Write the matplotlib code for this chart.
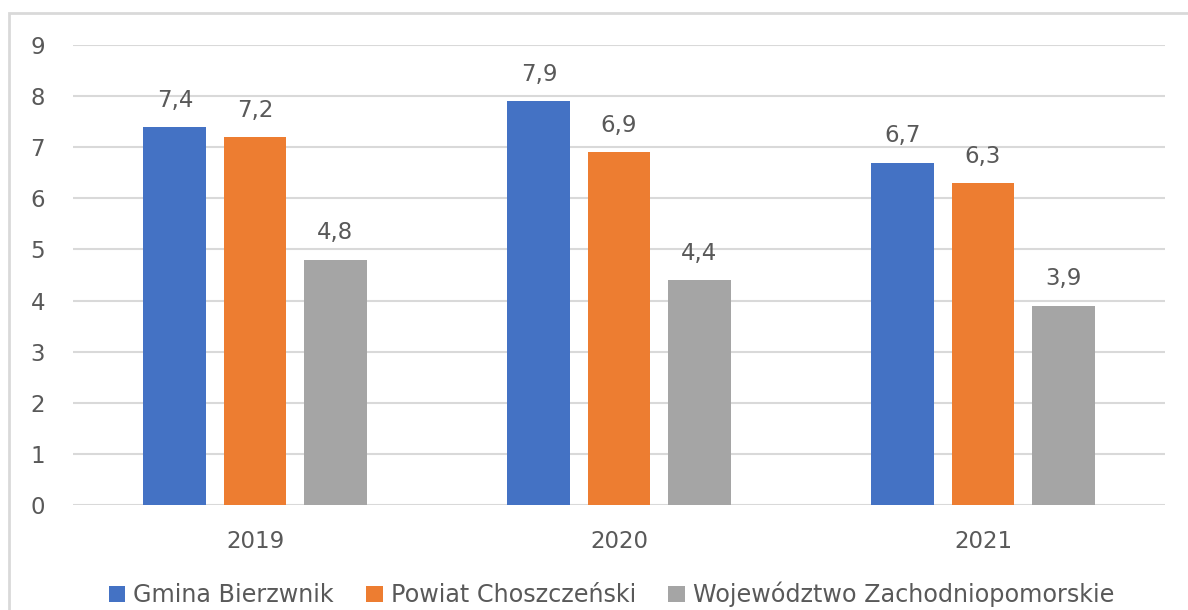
import numpy as np
import matplotlib.pyplot as plt
from matplotlib.patches import Rectangle

years = ["2019", "2020", "2021"]
series_names = ["Gmina Bierzwnik", "Powiat Choszczeński", "Województwo Zachodniopomorskie"]
gmina = [7.4, 7.9, 6.7]
powiat = [7.2, 6.9, 6.3]
wojewodztwo = [4.8, 4.4, 3.9]
colors = ["#4472C4", "#ED7D31", "#A5A5A5"]

plt.rcParams['font.family'] = ['DejaVu Sans']
txt = "#595959"
fs = 16.5

fig = plt.figure(figsize=(11.88, 6.10), dpi=100)
ax = fig.add_axes([73/1188, 1 - 505/610, 1092/1188, 460/610])

# chart border (right/bottom edges run off the image)
fig.patches.append(Rectangle((9/1188, -0.05), 1.2, 1 - 13/610 + 0.05,
                             transform=fig.transFigure, fill=False,
                             edgecolor="#D9D9D9", linewidth=2))

x = np.arange(len(years))
w = 0.173
step = 0.22
for i, (vals, name) in enumerate(zip([gmina, powiat, wojewodztwo], series_names)):
    bars = ax.bar(x + (i - 1) * step, vals, w, color=colors[i], label=name, zorder=3)
    for b, v in zip(bars, vals):
        ax.annotate(("%.1f" % v).replace(".", ","),
                    (b.get_x() + b.get_width() / 2, v),
                    xytext=(0, 11), textcoords="offset points",
                    ha="center", va="bottom", fontsize=fs, color=txt)

ax.set_xlim(-0.5, 2.5)
ax.set_ylim(0, 9)
ax.set_yticks(range(10))
ax.set_xticks(x)
ax.set_xticklabels(years)
ax.grid(axis="y", color="#D9D9D9", linewidth=1.5, zorder=0)
for s in ax.spines.values():
    s.set_visible(False)
ax.tick_params(length=0, labelsize=fs, colors=txt)
ax.tick_params(axis="y", pad=20)
ax.tick_params(axis="x", pad=18)

ax.legend(loc="center", bbox_to_anchor=(0.493, -0.195), ncol=3, frameon=False,
          fontsize=17.2, labelcolor=txt, handlelength=0.7, handleheight=0.7,
          handletextpad=0.33, columnspacing=1.35)

fig.savefig("out.png", dpi=100)
